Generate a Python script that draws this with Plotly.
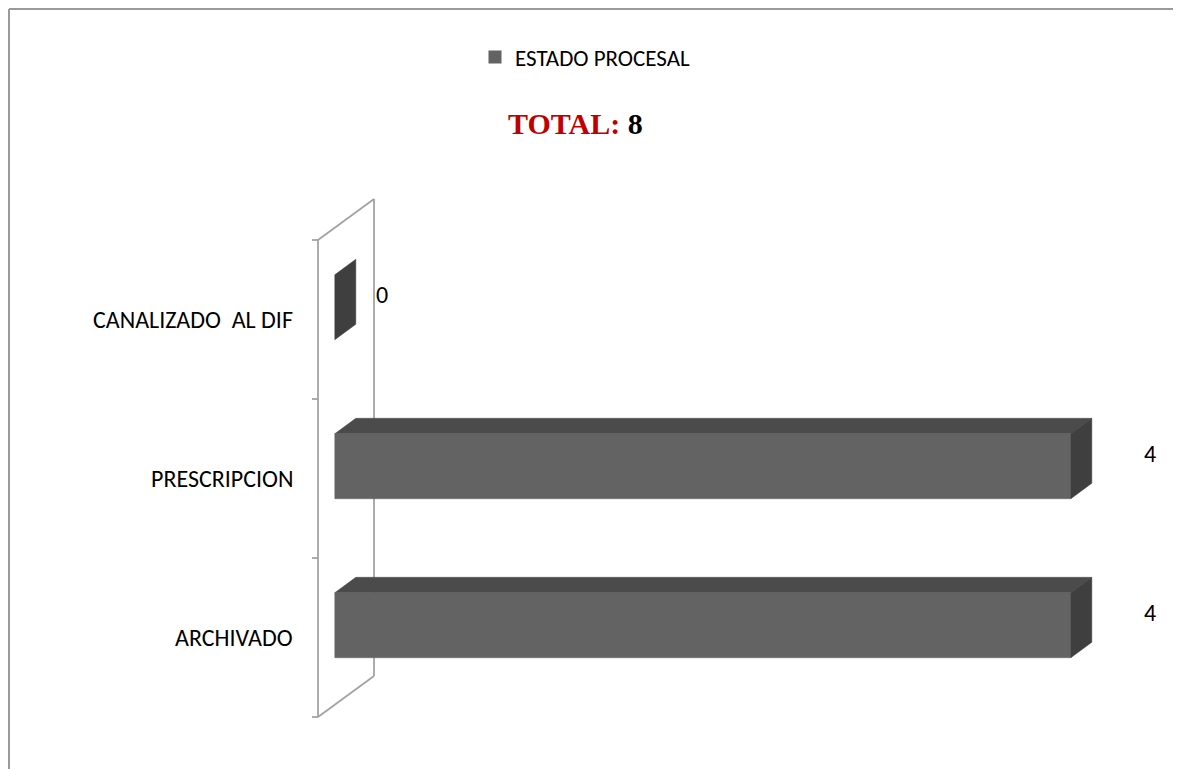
import plotly.graph_objects as go

# ---------------- data ----------------
categories = ["ARCHIVADO", "PRESCRIPCION", "CANALIZADO  AL DIF"]
values = [4, 4, 0]
series_name = "ESTADO PROCESAL"
title_label = "TOTAL:"
total_value = 8

# ---------------- geometry / style ----------------
OFF = 8  # page body margin
W, H = 1181 - OFF, 769 - OFF
PX_PER_VAL = 184.0
PX_PER_CAT = 159.0
X0_PX = 318.0 - OFF
Y0_PX = 717.0 - OFF
DEPTH_X = 56 / PX_PER_VAL
DEPTH_Y = 41 / PX_PER_CAT
D1, D2 = 0.30, 0.675
HALF = 0.2045

FRONT = "#636363"
TOP = "#4b4b4b"
SIDE = "#3f3f3f"
WALL = "#a3a3a3"
FONT = "Carlito, Calibri, Lato, sans-serif"

x_range = [-X0_PX / PX_PER_VAL, (W - X0_PX) / PX_PER_VAL]
y_range = [-0.5 - (H - Y0_PX) / PX_PER_CAT, -0.5 + Y0_PX / PX_PER_CAT]


def P(v, c, d):
    return v + d * DEPTH_X, c + d * DEPTH_Y


def poly(points, color):
    xs = [p[0] for p in points] + [points[0][0]]
    ys = [p[1] for p in points] + [points[0][1]]
    return go.Scatter(x=xs, y=ys, mode="lines", fill="toself", fillcolor=color,
                      line=dict(color=color, width=0.5), hoverinfo="skip",
                      showlegend=False)


fig = go.Figure()

n = len(categories)
lo, hi = -0.5, n - 0.5

# wall (left side panel)
wall_segments = [
    [P(0, lo, 1), P(0, hi, 1)],          # back vertical
    [P(0, hi, 0), P(0, hi, 1)],          # top diagonal
    [P(0, lo, 0), P(0, lo, 1)],          # bottom diagonal
    [P(0, lo, 0), P(0, hi, 0)],          # front vertical
]
for k in range(n + 1):
    c = lo + k
    wall_segments.append([(-6 / PX_PER_VAL, c), (0, c)])
for seg in wall_segments:
    fig.add_trace(go.Scatter(x=[p[0] for p in seg], y=[p[1] for p in seg],
                             mode="lines", line=dict(color=WALL, width=1.8),
                             hoverinfo="skip", showlegend=False))

# bars
for i, v in enumerate(values):
    c = i
    if v > 0:
        fig.add_trace(poly([P(0, c + HALF, D1), P(v, c + HALF, D1),
                            P(v, c + HALF, D2), P(0, c + HALF, D2)], TOP))
        fig.add_trace(poly([P(0, c - HALF, D1), P(v, c - HALF, D1),
                            P(v, c + HALF, D1), P(0, c + HALF, D1)], FRONT))
    fig.add_trace(poly([P(v, c - HALF, D1), P(v, c - HALF, D2),
                        P(v, c + HALF, D2), P(v, c + HALF, D1)], SIDE))

# legend entry
fig.add_trace(go.Scatter(x=[None], y=[None], mode="markers", name=series_name,
                         marker=dict(symbol="square", size=13, color=FRONT),
                         showlegend=True))

annotations = []
for i, (cat, v) in enumerate(zip(categories, values)):
    annotations.append(dict(x=-23 / PX_PER_VAL, y=i, xref="x", yref="y",
                            text=cat.replace("  ", "\u00a0 "), showarrow=False,
                            xanchor="right", yanchor="middle",
                            font=dict(family=FONT, size=24, color="black")))
    annotations.append(dict(x=v * 1.0435 + 0.348, y=i + 0.16, xref="x", yref="y",
                            text=str(v), showarrow=False,
                            xanchor="center", yanchor="middle",
                            font=dict(family=FONT, size=24, color="black")))

annotations.append(dict(x=(575 - OFF) / W, y=1 - (123.5 - OFF) / H,
                        xref="paper", yref="paper",
                        text=f'<b><span style="color:#C00000">{title_label}</span> {total_value}</b>',
                        showarrow=False, xanchor="center", yanchor="middle",
                        font=dict(family="Liberation Serif, serif", size=30, color="black")))

border = dict(color="#9a9a9a", width=2)
fig.update_layout(
    width=W, height=H,
    margin=dict(l=0, r=0, t=0, b=0, autoexpand=False),
    paper_bgcolor="white", plot_bgcolor="white",
    xaxis=dict(range=x_range, visible=False, fixedrange=True),
    yaxis=dict(range=y_range, visible=False, fixedrange=True),
    annotations=annotations,
    showlegend=True,
    legend=dict(orientation="h", x=(475 - OFF) / W, xanchor="left",
                y=1 - (57 - OFF) / H, yanchor="middle", itemwidth=30,
                bgcolor="rgba(0,0,0,0)",
                font=dict(family=FONT, size=23, color="black")),
    shapes=[
        dict(type="line", xref="paper", yref="paper",
             x0=1 / W, x1=1 / W, y0=-0.05, y1=1 - 1 / H, line=border, layer="above"),
        dict(type="line", xref="paper", yref="paper",
             x0=1 / W, x1=1.05, y0=1 - 1 / H, y1=1 - 1 / H, line=border, layer="above"),
    ],
)

fig.write_html("out.html")
